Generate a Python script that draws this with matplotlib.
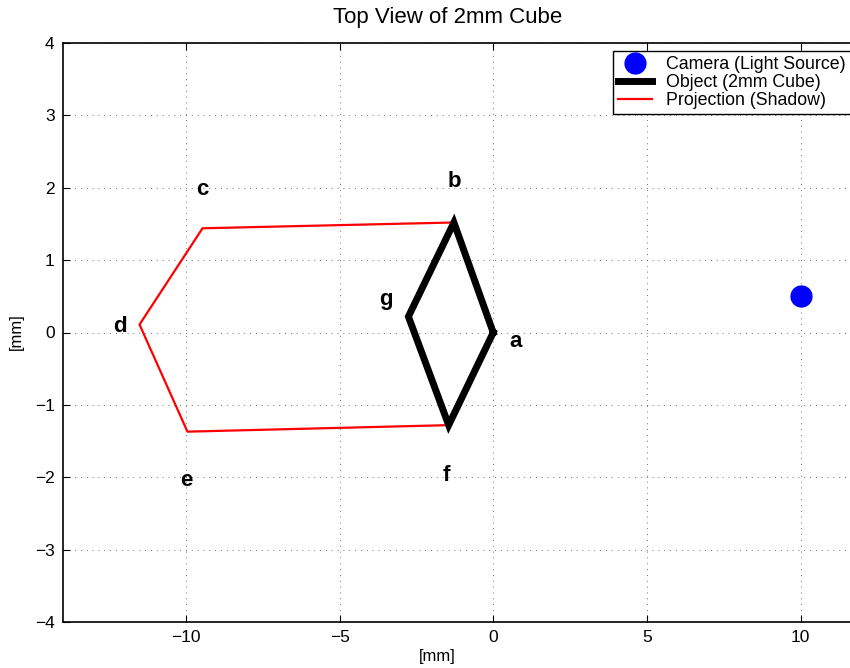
import matplotlib
matplotlib.use("Agg")
import matplotlib.pyplot as plt

plt.rcParams["font.family"] = ["Liberation Sans", "DejaVu Sans"]
plt.rcParams["axes.unicode_minus"] = True

# camera position
camera_x = [10.0]
camera_y = [0.5]

# top face of the cube: a -> b -> g -> f -> a
cube_x = [0.0, -1.28, -2.76, -1.45, 0.0]
cube_y = [0.0, 1.52, 0.22, -1.28, 0.0]

# shadow outline: b -> c -> d -> e -> f
shadow_x = [-1.28, -9.46, -11.51, -9.95, -1.45]
shadow_y = [1.52, 1.44, 0.11, -1.37, -1.28]

# vertex labels
label_text = ["a", "b", "c", "d", "e", "f", "g"]
label_x = [0.72, -1.27, -9.46, -12.16, -10.0, -1.53, -3.5]
label_y = [-0.13, 2.08, 1.97, 0.08, -2.04, -1.97, 0.45]

fig = plt.figure(figsize=(8.5, 6.68), dpi=100)
W, H = 850, 668
ax = fig.add_axes([63 / W, 1 - 622 / H, (870 - 63) / W, (622 - 43) / H])

ax.plot(camera_x, camera_y, "o", color="blue", markersize=15,
        label="Camera (Light Source)", zorder=3)
ax.plot(cube_x, cube_y, color="black", linewidth=5,
        solid_joinstyle="miter", label="Object (2mm Cube)", zorder=3)
ax.plot(shadow_x, shadow_y, color="red", linewidth=1.6,
        label="Projection (Shadow)", zorder=2)

for t, x, y in zip(label_text, label_x, label_y):
    ax.text(x, y, t, fontsize=16, fontweight="bold", ha="center", va="center")

ax.set_xlim(-14, (870 - 493) / 30.75)
ax.set_ylim(-4, 4)
ax.set_xticks([-10, -5, 0, 5, 10])
ax.set_yticks(range(-4, 5))
ax.tick_params(direction="in", length=5, width=0.8, labelsize=12.5,
               top=True, right=True, pad=6)
ax.grid(True, color="#444444", linestyle=(0, (1, 6)), linewidth=0.6)
ax.set_axisbelow(True)
for s in ax.spines.values():
    s.set_linewidth(1.2)

fig.text(448 / W, 1 - 18 / H, "Top View of 2mm Cube", fontsize=16,
         ha="center", va="center")
fig.text(437 / W, 1 - 657 / H, "[mm]", fontsize=12, ha="center", va="center")
fig.text(16 / W, 1 - 332 / H, "[mm]", fontsize=12, ha="center", va="center",
         rotation=90)

leg = ax.legend(loc="upper left", bbox_to_anchor=(613 / W, 1 - 51 / H),
                bbox_transform=fig.transFigure, fontsize=12.8, fancybox=False,
                framealpha=1, edgecolor="black", borderpad=0.3,
                labelspacing=0.05, handlelength=1.9, handletextpad=0.8,
                borderaxespad=0)
leg.get_frame().set_linewidth(1.0)

fig.savefig("out.png", dpi=100)
